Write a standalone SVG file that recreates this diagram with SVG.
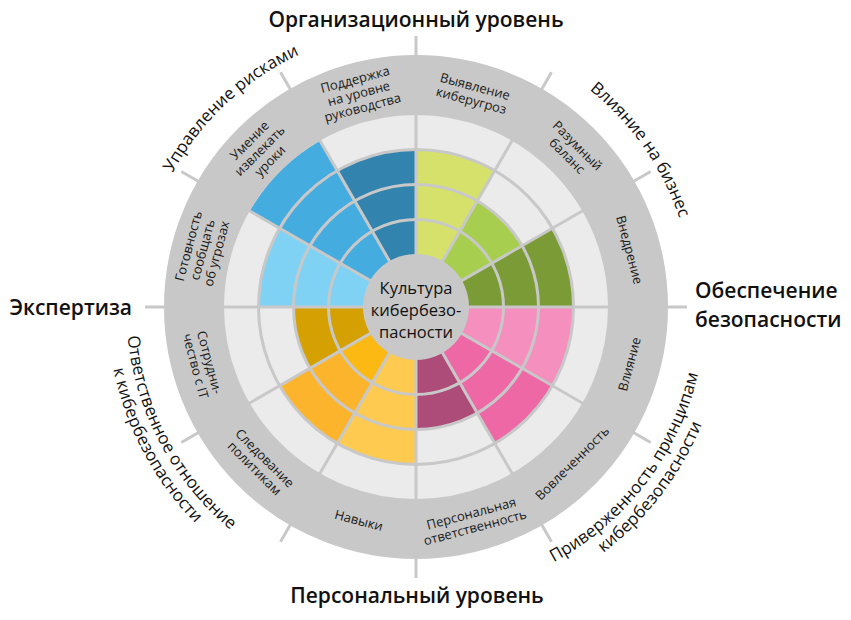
<svg xmlns="http://www.w3.org/2000/svg" width="851" height="620" viewBox="0 0 851 620">
<style>
.lbl{font-family:"Open Sans","Noto Sans",sans-serif;font-size:13px;fill:#1a1a1a;text-anchor:middle}
.hd{font-family:"Open Sans","Noto Sans",sans-serif;font-size:21px;font-weight:600;fill:#111}
.arc{font-family:"Open Sans","Noto Sans",sans-serif;font-size:17px;fill:#111}
.ctr{font-family:"Open Sans","Noto Sans",sans-serif;font-size:16.5px;fill:#111;text-anchor:middle}
.sep{fill:none;stroke:#c8c8c8;stroke-width:3}
.ln{stroke:#c8c8c8;stroke-width:3}
</style>
<defs>
<path id="topArc" d="M416,585 A278,278 0 1 1 416,29 A278,278 0 1 1 416,585"/>
<path id="botArc1" d="M416,17 A290,290 0 1 0 416,597 A290,290 0 1 0 416,17"/>
<path id="botArc2" d="M416,-2 A309,309 0 1 0 416,616 A309,309 0 1 0 416,-2"/>
</defs>
<rect width="851" height="620" fill="#fff"/>
<g id="base">
<circle cx="416" cy="307" r="193" fill="#ebebeb"/>
</g>
<g id="cells">
<path id="s1" d="M416,307 L416,150 A157,157 0 0 1 494.5,171.03 Z" fill="#d5e16b"/>
<path id="s2" d="M416,307 L477,201.35 A122,122 0 0 1 521.65,246 Z" fill="#a7ce4e"/>
<path id="s3" d="M416,307 L551.97,228.5 A157,157 0 0 1 573,307 Z" fill="#7a9b35"/>
<path id="s4" d="M416,307 L573,307 A157,157 0 0 1 551.97,385.5 Z" fill="#f48fbe"/>
<path id="s5" d="M416,307 L551.97,385.5 A157,157 0 0 1 494.5,442.97 Z" fill="#ee68a6"/>
<path id="s6" d="M416,307 L477,412.65 A122,122 0 0 1 416,429 Z" fill="#ad4b79"/>
<path id="s7" d="M416,307 L416,464 A157,157 0 0 1 337.5,442.97 Z" fill="#ffca50"/>
<path id="s8" d="M416,307 L337.5,442.97 A157,157 0 0 1 280.03,385.5 Z" fill="#fbb42b"/>
<path id="s8i" d="M416,307 L372.5,382.34 A87,87 0 0 1 340.66,350.5 Z" fill="#fdb913"/>
<path id="s9" d="M416,307 L310.35,368 A122,122 0 0 1 294,307 Z" fill="#d4a002"/>
<path id="s10" d="M416,307 L259,307 A157,157 0 0 1 280.03,228.5 Z" fill="#80d2f4"/>
<path id="s11" d="M416,307 L249.72,211 A192,192 0 0 1 320,140.72 Z" fill="#45ace0"/>
<path id="s12" d="M416,307 L337.5,171.03 A157,157 0 0 1 416,150 Z" fill="#3283ae"/>
</g>
<g id="grid">
<circle class="sep" cx="416" cy="307" r="87.5"/>
<circle class="sep" cx="416" cy="307" r="122.5"/>
<circle class="sep" cx="416" cy="307" r="157.5"/>
<line class="ln" x1="416" y1="36" x2="416" y2="578"/>
<line class="ln" x1="145" y1="307" x2="687" y2="307"/>
<line class="ln" x1="551.5" y1="72.31" x2="280.5" y2="541.69"/>
<line class="ln" x1="650.69" y1="171.5" x2="181.31" y2="442.5"/>
<line class="ln" x1="650.69" y1="442.5" x2="181.31" y2="171.5"/>
<line class="ln" x1="551.5" y1="541.69" x2="280.5" y2="72.31"/>
</g>
<g id="ring">
<circle cx="416" cy="307" r="222" fill="none" stroke="#c8c8c8" stroke-width="60"/>
</g>
<g id="center">
<circle cx="416" cy="307" r="53" fill="#c8c8c8"/>
<text class="ctr" x="416" y="294">Культура</text>
<text class="ctr" x="416" y="316">кибербезо-</text>
<text class="ctr" x="416" y="338">пасности</text>
</g>
<g id="labels">
<g id="l1" transform="rotate(15 416 307)"><text class="lbl" x="416" y="83.25">Выявление</text><text class="lbl" x="416" y="97.75">киберугроз</text></g>
<g id="l2" transform="rotate(45 416 307)"><text class="lbl" x="416" y="83.25">Разумный</text><text class="lbl" x="416" y="97.75">баланс</text></g>
<g id="l3" transform="rotate(75 416 307)"><text class="lbl" x="416" y="90.5">Внедрение</text></g>
<g id="l4" transform="rotate(-75 416 307)"><text class="lbl" x="416" y="532.5">Влияние</text></g>
<g id="l5" transform="rotate(-45 416 307)"><text class="lbl" x="416" y="532.5">Вовлеченность</text></g>
<g id="l6" transform="rotate(-15 416 307)"><text class="lbl" x="416" y="525.25">Персональная</text><text class="lbl" x="416" y="539.75">ответственность</text></g>
<g id="l7" transform="rotate(15 416 307)"><text class="lbl" x="416" y="532.5">Навыки</text></g>
<g id="l8" transform="rotate(45 416 307)"><text class="lbl" x="416" y="525.25">Следование</text><text class="lbl" x="416" y="539.75">политикам</text></g>
<g id="l9" transform="rotate(75 416 307)"><text class="lbl" x="416" y="525.25">Сотрудни-</text><text class="lbl" x="416" y="539.75">чество с IT</text></g>
<g id="l10" transform="rotate(-75 416 307)"><text class="lbl" x="416" y="76">Готовность</text><text class="lbl" x="416" y="90.5">сообщать</text><text class="lbl" x="416" y="105">об угрозах</text></g>
<g id="l11" transform="rotate(-45 416 307)"><text class="lbl" x="416" y="76">Умение</text><text class="lbl" x="416" y="90.5">извлекать</text><text class="lbl" x="416" y="105">уроки</text></g>
<g id="l12" transform="rotate(-15 416 307)"><text class="lbl" x="416" y="76">Поддержка</text><text class="lbl" x="416" y="90.5">на уровне</text><text class="lbl" x="416" y="105">руководства</text></g>
</g>
<g id="outer">
<text class="hd" x="416" y="27" text-anchor="middle">Организационный уровень</text>
<text class="hd" x="417" y="603" text-anchor="middle">Персональный уровень</text>
<text class="hd" x="132" y="315" text-anchor="end">Экспертиза</text>
<text class="hd" x="695" y="298">Обеспечение</text>
<text class="hd" x="695" y="327">безопасности</text>
<text class="arc" text-anchor="middle"><textPath href="#topArc" startOffset="38.06%">Управление рисками</textPath></text>
<text class="arc" text-anchor="middle"><textPath href="#topArc" startOffset="65.28%">Влияние на бизнес</textPath></text>
<text class="arc" text-anchor="middle"><textPath href="#botArc1" startOffset="64.58%">Приверженность принципам</textPath></text>
<text class="arc" text-anchor="middle"><textPath href="#botArc2" startOffset="64.58%">кибербезопасности</textPath></text>
<text class="arc" text-anchor="middle"><textPath href="#botArc1" startOffset="32.78%">Ответственное отношение</textPath></text>
<text class="arc" text-anchor="middle"><textPath href="#botArc2" startOffset="32.78%">к кибербезопасности</textPath></text>
</g>
</svg>
